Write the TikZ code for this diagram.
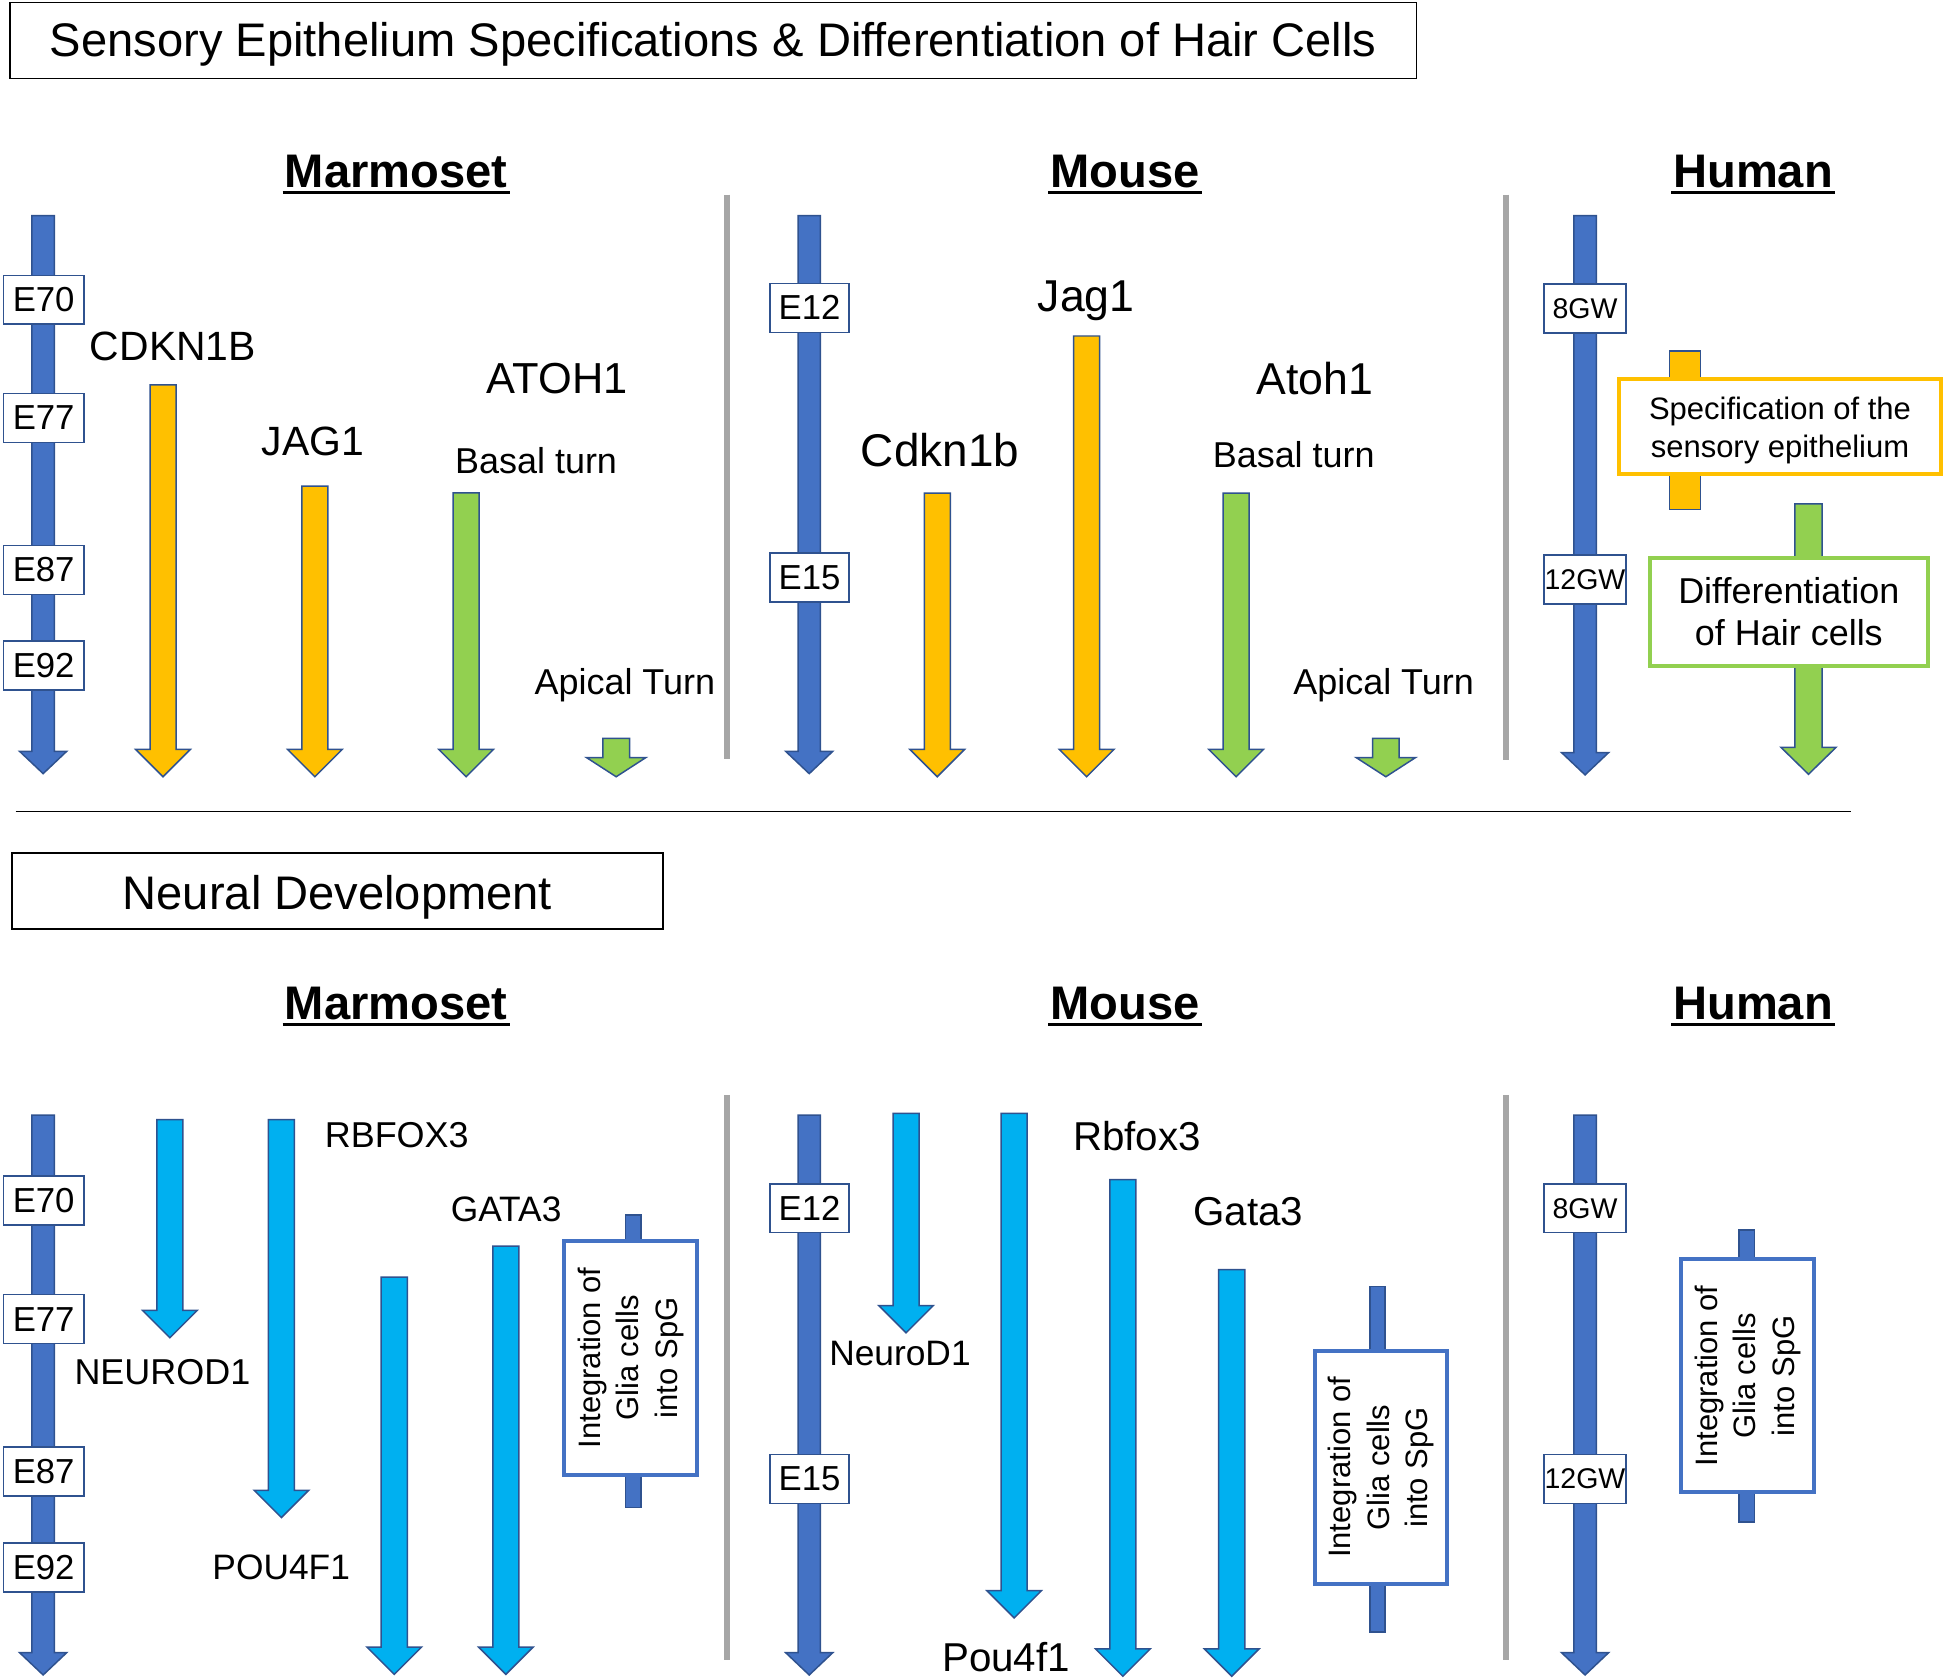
\documentclass[tikz,border=0pt]{standalone}
\usepackage{fontspec}
\setmainfont{Liberation Sans}
\definecolor{tl}{HTML}{4472C4}
\definecolor{ol}{HTML}{2F528F}
\definecolor{yl}{HTML}{FFC000}
\definecolor{gr}{HTML}{92D050}
\definecolor{lb}{HTML}{00B0F0}
\definecolor{dv}{HTML}{A6A6A6}
\newcommand\fsz[2]{\fontsize{#1}{#2}\selectfont}
% x, top, tip, half shaft, half head, head length, fill
\newcommand\mkarrow[7]{\draw[ol, fill=#7, line width=1.2, line join=miter]
  ({#1-#4},#2) -- ({#1+#4},#2) -- ({#1+#4},{#3-#6}) -- ({#1+#5},{#3-#6}) -- (#1,#3)
  -- ({#1-#5},{#3-#6}) -- ({#1-#4},{#3-#6}) -- cycle;}
\newcommand\mktl[3]{\mkarrow{#1}{#2}{#3}{9}{19}{18}{tl}}
\newcommand\mkcol[4]{\mkarrow{#1}{#2}{#3}{10.5}{22}{22}{#4}}
\newcommand\mkbar[3]{\draw[ol, fill=#3, line width=1.2] (#1) rectangle (#2);}
\begin{document}
\begin{tikzpicture}[x=1pt,y=-1pt,
  lbl/.style={inner sep=0, anchor=base},
  hdr/.style={inner xsep=1.5, inner ysep=0, anchor=base, font=\bfseries\fsz{38}{46}},
  ebox/.style={draw=ol, fill=white, line width=1.3, inner sep=0, minimum width=65, minimum height=39.5, font=\fsz{28}{34}},
  gwbox/.style={ebox, minimum width=65.7, font=\fsz{23}{28}},
  framebox/.style={draw=black, line width=1.3, inner sep=0, font=\fsz{38}{46}},
  intbox/.style={draw=tl, line width=3.3, fill=white, rotate=90, align=center, inner sep=0, minimum width=188.3, minimum height=107, font=\fsz{25}{31}},
  divider/.style={draw=dv, line width=4.5},
  uline/.style={line width=2.3}]
\useasboundingbox (0,0) rectangle (1568,1353);

% ---------- frames and separators ----------
\node[framebox, minimum width=1134.6, minimum height=61.2, text height=27.7, text depth=2.3] (title) at (575.3,32.6) {Sensory Epithelium Specifications \& Differentiation of Hair Cells};
\node[framebox, minimum width=525.1, minimum height=61.4, text height=29.4, text depth=0] (neural) at (272.2,718.7) {Neural Development};
\coordinate (hl1) at (12.6,654.5);
\coordinate (hl2) at (1493,654.5);
\draw[line width=1.3] (hl1) -- (hl2);

\coordinate (d1a) at (586.5,157); \coordinate (d1b) at (586.5,612);
\coordinate (d2a) at (1214.7,157); \coordinate (d2b) at (1214.7,613);
\coordinate (d3a) at (586.5,883); \coordinate (d3b) at (586.5,1339);
\coordinate (d4a) at (1214.7,883); \coordinate (d4b) at (1214.7,1339);
\draw[divider] (d1a) -- (d1b);
\draw[divider] (d2a) -- (d2b);
\draw[divider] (d3a) -- (d3b);
\draw[divider] (d4a) -- (d4b);

% ---------- headers ----------
\node[hdr] (h1) at (319.5,151) {Marmoset};
\node[hdr] (h2) at (907.5,151.5) {Mouse};
\node[hdr] (h3) at (1414,151) {Human};
\node[hdr] (h4) at (319.5,822) {Marmoset};
\node[hdr] (h5) at (907.5,822.5) {Mouse};
\node[hdr] (h6) at (1414,822) {Human};
\foreach \h in {h1,h2,h3,h4,h5,h6}
  \draw[uline] ([yshift=-4]\h.base west) -- ([yshift=-4]\h.base east);

% ================= TOP: Marmoset =================
\mktl{34.8}{174}{624}
\mkcol{131.5}{310.5}{626.5}{yl}
\mkcol{254}{392}{626.5}{yl}
\mkcol{376}{397.5}{626.5}{gr}
\mkarrow{497}{595.5}{626.5}{10.75}{24}{15.5}{gr}
\node[ebox] (tm1) at (35.2,241.8) {E70};
\node[ebox] (tm2) at (35.2,337.1) {E77};
\node[ebox] (tm3) at (35.2,459.6) {E87};
\node[ebox] (tm4) at (35.2,537) {E92};
\node[lbl, font=\fsz{33}{40}] (cdkn) at (139.5,291) {CDKN1B};
\node[lbl, font=\fsz{33}{40}] (jagm) at (252.5,367.5) {JAG1};
\node[lbl, font=\fsz{35}{42}] (atohm) at (449.5,317.5) {ATOH1};
\node[lbl, font=\fsz{29}{35}] (basm) at (432.4,381.6) {Basal turn};
\node[lbl, font=\fsz{29}{35}] (apim) at (504,560) {Apical Turn};

% ================= TOP: Mouse =================
\mktl{652.7}{174}{624}
\mkcol{756}{397.8}{626.5}{yl}
\mkcol{876.5}{271}{626.5}{yl}
\mkcol{997}{397.8}{626.5}{gr}
\mkarrow{1117.8}{595.5}{626.5}{10.75}{24}{15.5}{gr}
\node[ebox, minimum width=64] (to1) at (653,248.3) {E12};
\node[ebox, minimum width=64] (to2) at (653,465.6) {E15};
\node[lbl, font=\fsz{36}{43}] (jago) at (876,251) {Jag1};
\node[lbl, font=\fsz{37}{44}] (cdko) at (758.2,376.4) {Cdkn1b};
\node[lbl, font=\fsz{36}{43}] (atoho) at (1060.5,318) {Atoh1};
\node[lbl, font=\fsz{29}{35}] (baso) at (1043.5,376.8) {Basal turn};
\node[lbl, font=\fsz{29}{35}] (apio) at (1116,560) {Apical Turn};

% ================= TOP: Human =================
\mktl{1278.5}{174}{625}
\mkbar{1346.4,283}{1371.7,411}{yl}
\mkarrow{1458.7}{406.4}{624.5}{11}{22.2}{21.7}{gr}
\node[gwbox] (th1) at (1278.4,248.8) {8GW};
\node[gwbox] (th2) at (1278.4,467.4) {12GW};
\node[draw=yl, line width=3.3, fill=white, minimum width=259, minimum height=76.3, inner sep=0] (spec) at (1435.7,344.15) {};
\node[inner sep=0, align=center, font=\fsz{25}{31.2}, yshift=-3] (spectxt) at (spec.center) {Specification of the\\sensory epithelium};
\node[draw=gr, line width=3.3, fill=white, minimum width=224.4, minimum height=86.8, inner sep=0, align=center, font=\fsz{29}{34}] (diff) at (1442.85,493.55) {Differentiation\\of Hair cells};

% ================= BOTTOM: Marmoset =================
\mktl{34.8}{899.5}{1351}
\mkcol{137}{903}{1079}{lb}
\mkcol{227}{903}{1224}{lb}
\mkcol{318}{1030}{1350.5}{lb}
\mkcol{408}{1005}{1350.5}{lb}
\mkbar{504.4,979.8}{516.9,1215.9}{tl}
\node[intbox, minimum width=188.6, minimum height=107.3] (int1) at (508.85,1095.2) {Integration of\\Glia cells\\into SpG};
\node[ebox] (bm1) at (35.2,968.3) {E70};
\node[ebox] (bm2) at (35.2,1064) {E77};
\node[ebox] (bm3) at (35.2,1186.7) {E87};
\node[ebox] (bm4) at (35.2,1264.3) {E92};
\node[lbl, font=\fsz{29}{35}] (neum) at (131,1116.4) {NEUROD1};
\node[lbl, font=\fsz{29}{35}] (rbfm) at (320,925.7) {RBFOX3};
\node[lbl, font=\fsz{28.5}{34}] (gatm) at (408.2,985.3) {GATA3};
\node[lbl, font=\fsz{28.5}{34}] (poum) at (226.8,1273.9) {POU4F1};

% ================= BOTTOM: Mouse =================
\mktl{652.7}{899.5}{1351}
\mkcol{730.8}{898}{1075}{lb}
\mkcol{818}{898}{1305}{lb}
\mkcol{905.7}{951.4}{1352}{lb}
\mkcol{993.5}{1024}{1352}{lb}
\mkbar{1105,1037.8}{1117,1316.5}{tl}
\node[intbox, minimum width=188, minimum height=105.9] (int2) at (1113.95,1183.6) {Integration of\\Glia cells\\into SpG};
\node[ebox, minimum width=64] (bo1) at (653,974.5) {E12};
\node[ebox, minimum width=64] (bo2) at (653,1192.8) {E15};
\node[lbl, font=\fsz{28.5}{34}] (neuo) at (725.9,1101) {NeuroD1};
\node[lbl, font=\fsz{32.5}{39}] (rbfo) at (917,928.2) {Rbfox3};
\node[lbl, font=\fsz{32.5}{39}] (gato) at (1006.8,988.4) {Gata3};
\node[lbl, font=\fsz{32.5}{39}] (pouo) at (811.5,1348) {Pou4f1};

% ================= BOTTOM: Human =================
\mktl{1278.5}{899.5}{1351}
\mkbar{1402.6,992}{1415,1227.6}{tl}
\node[intbox, minimum width=188.1, minimum height=107.2] (int3) at (1409.55,1109.7) {Integration of\\Glia cells\\into SpG};
\node[gwbox] (bh1) at (1278.4,974.5) {8GW};
\node[gwbox] (bh2) at (1278.4,1192.8) {12GW};
\end{tikzpicture}
\end{document}
